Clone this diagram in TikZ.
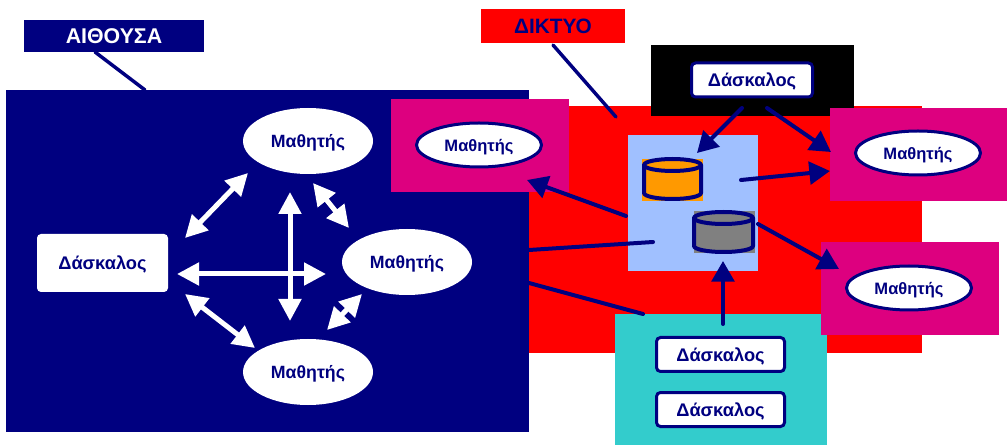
\documentclass[tikz,border=0pt]{standalone}
\usepackage{fontspec}
\setmainfont{Liberation Sans}
\usetikzlibrary{arrows.meta,shapes.geometric}
\definecolor{nv}{RGB}{0,0,128}
\definecolor{rd}{RGB}{255,0,0}
\definecolor{mg}{RGB}{221,0,127}
\definecolor{lb}{RGB}{160,192,255}
\definecolor{tl}{RGB}{51,204,204}
\definecolor{og}{RGB}{255,153,0}
\definecolor{gy}{RGB}{128,128,128}
\tikzset{
 x=0.75pt,y=-0.75pt,
 panel/.style n args={3}{draw=none,fill=#1,rectangle,inner sep=0,minimum width=#2*0.75pt,minimum height=#3*0.75pt},
 lab/.style={font=\bfseries\fontsize{13.7pt}{15pt}\selectfont,text=nv,inner sep=0,text height=13pt,text depth=3pt},
 mathw/.style={ellipse,fill=white,minimum width=130*0.75pt,minimum height=66*0.75pt,lab,font=\bfseries\fontsize{13.3pt}{15pt}\selectfont},
 maths/.style={ellipse,fill=white,draw=nv,line width=2.25pt,minimum width=125*0.75pt,minimum height=44*0.75pt,lab,font=\bfseries\fontsize{12.4pt}{15pt}\selectfont},
 teach/.style={rectangle,rounded corners=3pt,fill=white,draw=nv,line width=2.25pt,minimum width=#1*0.75pt,minimum height=34*0.75pt,lab},
 warrow/.style={draw=white,line width=3.75pt,{Triangle[length=16.5pt,width=16.5pt]}-{Triangle[length=16.5pt,width=16.5pt]}},
 narrow/.style={draw=nv,line width=3pt,line cap=round,-{Triangle[length=15.5pt,width=17pt]}},
 nline/.style={draw=nv,line width=3pt,line cap=round},
 thin line/.style={draw=nv,line width=2.6pt,line cap=round},
 cyl/.style={draw=nv,line width=3pt,line join=round},
}
\begin{document}
\begin{tikzpicture}
\useasboundingbox (0,0) rectangle (1007,445);
\fill[white] (0,0) rectangle (1007,445);
% panels
\node[panel={rd}{393}{247}] (net) at (725.5,229.5) {};
\node[panel={nv}{523}{342}] (room) at (267.5,261) {};
\node[panel={black}{203}{71}] (top) at (752.5,80.5) {};
\node[panel={lb}{130}{136}] (srv) at (693,203) {};
\node[panel={tl}{212}{131}] (teal) at (721,379.5) {};
\node[panel={mg}{178}{93}] (mgl) at (480,145.5) {};
\node[panel={mg}{177}{93}] (mgr) at (918.5,154.5) {};
\node[panel={mg}{178}{93}] (mgb) at (910,288.5) {};
% titles
\node[panel={nv}{180}{32},font=\bfseries\fontsize{16pt}{18pt}\selectfont,text=white] (room title) at (114,36) {ΑΙΘΟΥΣΑ};
\node[panel={rd}{144}{34},font=\bfseries\fontsize{15.6pt}{18pt}\selectfont,text=nv] (net title) at (553,26) {ΔΙΚΤΥΟ};
\coordinate (rt) at (95,52); \coordinate (rb) at (145,90);
\coordinate (nt) at (553,45); \coordinate (nb) at (616,117);
\draw[thin line] (rt) -- (rb);
\draw[thin line] (nt) -- (nb);
% classroom
\node[rectangle,rounded corners=3pt,fill=white,minimum width=131*0.75pt,minimum height=58*0.75pt,lab] (t0) at (102.5,263) {Δάσκαλος};
\node[mathw] (m1) at (308,141) {Μαθητής};
\node[mathw] (m2) at (407,262) {Μαθητής};
\node[mathw] (m3) at (308,372) {Μαθητής};
\coordinate (a1) at (185,238); \coordinate (a2) at (248,173);
\coordinate (b1) at (290,192); \coordinate (b2) at (290,321);
\coordinate (c1) at (177,274); \coordinate (c2) at (326,274);
\coordinate (d1) at (313,183); \coordinate (d2) at (349,228);
\coordinate (e1) at (185,294); \coordinate (e2) at (255,348);
\coordinate (f1) at (327,330); \coordinate (f2) at (362,294);
\draw[warrow] (a1) -- (a2);
\draw[warrow] (b1) -- (b2);
\draw[warrow] (c1) -- (c2);
\draw[warrow] (d1) -- (d2);
\draw[warrow] (e1) -- (e2);
\draw[warrow] (f1) -- (f2);
% network nodes
\node[maths] (ml) at (479,145) {Μαθητής};
\node[maths] (mr) at (918,153) {Μαθητής};
\node[maths] (mb) at (909,288) {Μαθητής};
\node[teach=121] (t1) at (752,80) {Δάσκαλος};
\node[teach=128] (t2) at (720.5,354.5) {Δάσκαλος};
\node[teach=128] (t3) at (720.5,409.5) {Δάσκαλος};
% cylinders
\node[panel={og}{61}{42}] (oc) at (672.5,180) {};
\node[panel={gy}{61}{42}] (gc) at (724.5,232) {};
\draw[cyl,fill=og] (644,165) -- (644,193) arc[start angle=180,end angle=360,x radius=28.5,y radius=-6] -- (701,165);
\draw[cyl,fill=og] (672.5,165) ellipse[x radius=28.5,y radius=6];
\draw[cyl,fill=gy] (694,218) -- (694,246) arc[start angle=180,end angle=360,x radius=29.5,y radius=-6] -- (753,218);
\draw[cyl,fill=gy] (723.5,218) ellipse[x radius=29.5,y radius=6];
% network connectors
\coordinate (p1) at (742,108); \coordinate (p2) at (697,153);
\coordinate (q1) at (767,108); \coordinate (q2) at (831,152);
\coordinate (r1) at (741,180); \coordinate (r2) at (830,171);
\coordinate (s1) at (758,224); \coordinate (s2) at (839,269);
\coordinate (u1) at (723,324); \coordinate (u2) at (723,261);
\coordinate (v1) at (626,216); \coordinate (v2) at (527,180);
\coordinate (w1) at (529,250); \coordinate (w2) at (653,242);
\coordinate (z1) at (529,283); \coordinate (z2) at (643,314);
\draw[narrow] (p1) -- (p2);
\draw[narrow] (q1) -- (q2);
\draw[narrow] (r1) -- (r2);
\draw[narrow] (s1) -- (s2);
\draw[narrow] (u1) -- (u2);
\draw[narrow] (v1) -- (v2);
\draw[nline] (w1) -- (w2);
\draw[nline] (z1) -- (z2);
\end{tikzpicture}
\end{document}
